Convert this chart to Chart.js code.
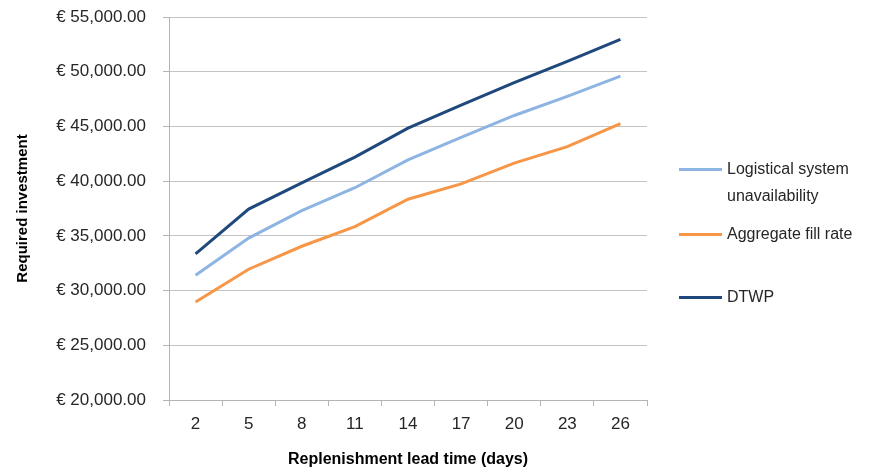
<!DOCTYPE html>
<html>
<head>
<meta charset="utf-8">
<script src="https://cdn.jsdelivr.net/npm/chart.js@4"></script>
<style>
  body { margin: 0; background: #fff; }
  #wrap { position: relative; width: 882px; height: 473px; }
  #legend { position: absolute; left: 679px; top: 0; width: 203px; height: 473px; font-family: "Liberation Sans", Arial, sans-serif; font-size: 16px; color: #262626; }
  .swatch { position: absolute; left: 0; width: 43px; height: 3px; }
  .label { position: absolute; left: 48px; line-height: 27px; white-space: nowrap; }
</style>
</head>
<body>
<div id="wrap">
  <canvas id="chart"></canvas>
  <div id="legend"></div>
</div>
<script>
// Chart data
const leadTimes = ['2', '5', '8', '11', '14', '17', '20', '23', '26'];
const logisticalUnavailability = [31400, 34800, 37300, 39400, 41950, 44000, 46000, 47750, 49600];
const aggregateFillRate = [28950, 31950, 34050, 35850, 38350, 39750, 41650, 43150, 45250];
const dtwp = [33350, 37450, 39850, 42200, 44850, 46950, 49000, 50950, 52950];
const seriesNames = ['Logistical system unavailability', 'Aggregate fill rate', 'DTWP'];
const seriesColors = ['#8db4e2', '#f79646', '#1f497d'];

const fontFamily = '"Liberation Sans", Arial, sans-serif';

function formatEuro(value) {
    return '€ ' + value.toLocaleString('en-US', { minimumFractionDigits: 2, maximumFractionDigits: 2 });
}

const canvas = document.getElementById('chart');
new Chart(canvas, {
    type: 'line',
    data: {
        labels: leadTimes,
        datasets: [logisticalUnavailability, aggregateFillRate, dtwp].map((values, i) => ({
            label: seriesNames[i],
            data: values,
            borderColor: seriesColors[i],
            backgroundColor: seriesColors[i],
            borderWidth: 3,
            pointRadius: 0,
            tension: 0
        }))
    },
    options: {
        responsive: true,
        maintainAspectRatio: false,
        animation: false,
        layout: { padding: { top: 0, right: 235, left: 10, bottom: 0 } },
        plugins: {
            legend: { display: false },
            tooltip: { enabled: false }
        },
        scales: {
            x: {
                offset: true,
                grid: { drawOnChartArea: false, drawTicks: true, tickLength: 6, color: '#b3b3b3', offset: true },
                border: { color: '#b3b3b3' },
                ticks: { color: '#262626', font: { family: fontFamily, size: 17 }, padding: 8 },
                title: { display: true, text: 'Replenishment lead time (days)', color: '#000', font: { family: fontFamily, size: 16, weight: 'bold' }, padding: { top: 11 } },
                afterFit: (scale) => { scale.height = 73; }
            },
            y: {
                min: 20000,
                max: 55000,
                grid: { color: '#c4c4c4', tickLength: 6, tickColor: '#b3b3b3' },
                border: { color: '#b3b3b3' },
                ticks: {
                    stepSize: 5000,
                    color: '#262626',
                    font: { family: fontFamily, size: 17 },
                    padding: 17,
                    callback: (v) => formatEuro(v)
                },
                title: { display: true, text: 'Required investment', color: '#000', font: { family: fontFamily, size: 15, weight: 'bold' }, padding: { bottom: 0 } },
                afterFit: (scale) => { scale.width = 159; scale.paddingTop = 17; }
            }
        }
    }
});

// HTML legend on the right
const legendItems = [
    { top: 155, swatchTop: 168, lines: ['Logistical system', 'unavailability'] },
    { top: 220, swatchTop: 233, lines: ['Aggregate fill rate'] },
    { top: 283, swatchTop: 296, lines: ['DTWP'] }
];
const legend = document.getElementById('legend');
legendItems.forEach((item, i) => {
    const sw = document.createElement('div');
    sw.className = 'swatch';
    sw.style.top = item.swatchTop + 'px';
    sw.style.background = seriesColors[i];
    legend.appendChild(sw);
    const lab = document.createElement('div');
    lab.className = 'label';
    lab.style.top = item.top + 'px';
    lab.innerHTML = item.lines.join('<br>');
    legend.appendChild(lab);
});
</script>
</body>
</html>
